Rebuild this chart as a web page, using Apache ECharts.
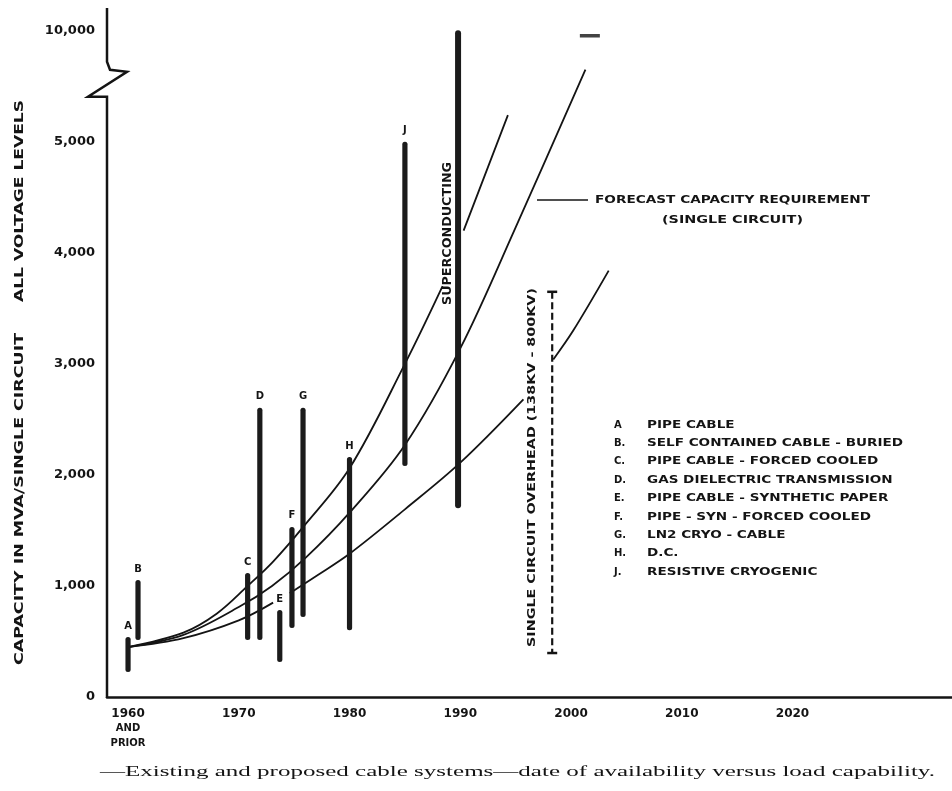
<!DOCTYPE html>
<html><head><meta charset="utf-8">
<script src="https://cdn.jsdelivr.net/npm/echarts@6/dist/echarts.min.js"></script>
<style>html,body{margin:0;padding:0;background:#fff}#c{width:952px;height:791px}</style>
</head><body><div id="c"></div>
<script>
// ---------- data ----------
const xTickYears = [1960, 1970, 1980, 1990, 2000, 2010, 2020];
const yTickValues = [0, 1000, 2000, 3000, 4000, 5000, 10000];

const barLetters = ['A', 'B', 'C', 'D', 'E', 'F', 'G', 'H', 'J'];
const barYears   = [1960, 1960.9, 1970.8, 1971.9, 1973.7, 1974.8, 1975.8, 1980, 1985];
const barLow     = [225, 513, 513, 513, 315, 622, 720, 600, 2080];
const barHigh    = [540, 1054, 1117, 2604, 784, 1532, 2604, 2162, 5000];

const superYear = 1989.8, superLow = 1700, superHigh = 10000;
const overheadYear = 1998.3, overheadLow = 396, overheadHigh = 3649;
const topMark = [[2001.7, 9950]];

const curveUpper = [[1960,450],[1965,580],[1968,750],[1970.8,1000],[1973.1,1220],[1975.8,1530],[1980,2060],[1985,3000],[1988.4,3700],[1989.3,'-'],[1990.3,4200],[1994.3,5240]];
const curveForecast = [[1960,450],[1965,560],[1970,810],[1973,1000],[1976,1250],[1980,1660],[1985,2270],[1990,3140],[1995,4230],[2001.3,5650]];
const curveLower = [[1960,450],[1965,530],[1970,690],[1973.1,850],[1973.8,'-'],[1974.6,935],[1977,1090],[1980,1290],[1985,1690],[1990,2110],[1995.7,2680],[1997,'-'],[1998.4,3040],[2000.2,3300],[2003.4,3840]];

const keyLetters = ['A', 'B.', 'C.', 'D.', 'E.', 'F.', 'G.', 'H.', 'J.'];
const keyNames = ['PIPE CABLE', 'SELF CONTAINED CABLE - BURIED', 'PIPE CABLE - FORCED COOLED',
  'GAS DIELECTRIC TRANSMISSION', 'PIPE CABLE - SYNTHETIC PAPER', 'PIPE - SYN - FORCED COOLED',
  'LN2 CRYO - CABLE', 'D.C.', 'RESISTIVE CRYOGENIC'];

const yTitleA = 'CAPACITY IN MVA/SINGLE CIRCUIT';
const yTitleB = 'ALL VOLTAGE LEVELS';
const forecastText1 = 'FORECAST CAPACITY REQUIREMENT';
const forecastText2 = '(SINGLE CIRCUIT)';
const superText = 'SUPERCONDUCTING';
const overheadText = 'SINGLE CIRCUIT OVERHEAD (138KV - 800KV)';
const caption = '\u2014Existing and proposed cable systems\u2014date of availability versus load capability.';

// ---------- helpers ----------
const INK = '#141414';
const FONT = 'DejaVu Sans';
const mctx = document.createElement('canvas').getContext('2d');
function measure(t, font) { mctx.font = font; return mctx.measureText(t).width; }
function fitText(t, x1, x2, yc, size, weight, family) {
  const font = (weight || 'bold') + ' ' + size + 'px "' + (family || FONT) + '"';
  const w = measure(t, font);
  return { type: 'text', x: x1, y: yc, scaleX: (x2 - x1) / w, z: 50,
    style: { text: t, font: font, fill: INK, textAlign: 'left', textVerticalAlign: 'middle' } };
}
function rotText(t, xc, yBottom, yTop, size) {
  const font = 'bold ' + size + 'px "' + FONT + '"';
  const w = measure(t, font);
  return { type: 'text', x: xc, y: (yBottom + yTop) / 2, rotation: Math.PI / 2, scaleX: (yBottom - yTop) / w, z: 50,
    style: { text: t, font: font, fill: INK, textAlign: 'center', textVerticalAlign: 'middle' } };
}

const chart = echarts.init(document.getElementById('c'), null, { renderer: 'canvas' });

const barData = barYears.map((y, i) => [y, barLow[i], barHigh[i], i]);

function renderBar(params, api) {
  const x = api.value(0), lo = api.value(1), hi = api.value(2), idx = api.value(3);
  const p0 = api.coord([x, lo]), p1 = api.coord([x, hi]);
  return { type: 'group', children: [
    { type: 'rect', shape: { x: p0[0] - 2.6, y: p1[1], width: 5.2, height: p0[1] - p1[1], r: 2.5 }, style: { fill: '#1b1b1b' } },
    { type: 'text', x: p0[0], y: p1[1] - 11, style: { text: barLetters[idx], font: 'bold 10px "' + FONT + '"', fill: INK, textAlign: 'center', textVerticalAlign: 'middle' } }
  ] };
}
function renderSuper(params, api) {
  const p0 = api.coord([api.value(0), api.value(1)]), p1 = api.coord([api.value(0), api.value(2)]);
  return { type: 'rect', shape: { x: p0[0] - 3, y: p1[1], width: 6, height: p0[1] - p1[1], r: 3 }, style: { fill: '#1b1b1b' } };
}
function renderOverhead(params, api) {
  const p0 = api.coord([api.value(0), api.value(1)]), p1 = api.coord([api.value(0), api.value(2)]);
  const x = p0[0];
  return { type: 'group', children: [
    { type: 'line', shape: { x1: x, y1: p1[1], x2: x, y2: p0[1] }, style: { stroke: INK, lineWidth: 2.2, lineDash: [7, 3.5] } },
    { type: 'line', shape: { x1: x - 5, y1: p1[1], x2: x + 5, y2: p1[1] }, style: { stroke: INK, lineWidth: 2.5 } },
    { type: 'line', shape: { x1: x - 5, y1: p0[1], x2: x + 5, y2: p0[1] }, style: { stroke: INK, lineWidth: 2.5 } }
  ] };
}

const lineStyle = { color: INK, width: 1.8 };

const option = {
  animation: false,
  backgroundColor: '#fff',
  grid: { left: 107, right: 0, top: 8, bottom: 94, containLabel: false },
  xAxis: {
    type: 'value', min: 1958.1, max: 2034.4,
    axisLine: { show: true, lineStyle: { color: INK, width: 2.5 } },
    axisTick: { show: false }, splitLine: { show: false },
    axisLabel: {
      customValues: xTickYears, margin: 9,
      fontFamily: FONT, fontWeight: 'bold', fontSize: 12, color: INK, lineHeight: 15,
      formatter: v => v === 1960 ? '1960\n{s|AND}\n{s|PRIOR}' : String(v),
      rich: { s: { fontFamily: FONT, fontWeight: 'bold', fontSize: 10, color: INK, lineHeight: 15 } }
    }
  },
  yAxis: {
    type: 'value', min: 0, max: 10200, interval: 1000,
    breaks: [{ start: 5700, end: 9900, gap: '3.3%' }],
    breakArea: { show: false },
    breakLabelLayout: { moveOverlap: false },
    axisLine: { show: false },
    axisTick: { show: false }, splitLine: { show: false },
    axisLabel: {
      customValues: yTickValues,
      margin: 12, fontFamily: FONT, fontWeight: 'bold', fontSize: 13, color: INK,
      formatter: v => {
        const n = typeof v === 'object' && v !== null ? v.value : Number(v);
        return yTickValues.indexOf(n) >= 0 ? n.toLocaleString('en-US') : '';
      }
    }
  },
  series: [
    { type: 'line', data: curveUpper, smooth: 0.35, showSymbol: false, connectNulls: false, lineStyle: lineStyle, z: 3 },
    { type: 'line', data: curveForecast, smooth: 0.35, showSymbol: false, connectNulls: false, lineStyle: lineStyle, z: 3 },
    { type: 'line', data: curveLower, smooth: 0.35, showSymbol: false, connectNulls: false, lineStyle: lineStyle, z: 3 },
    { type: 'custom', data: barData, renderItem: renderBar, z: 4 },
    { type: 'custom', data: [[superYear, superLow, superHigh]], renderItem: renderSuper, z: 4 },
    { type: 'custom', data: [[overheadYear, overheadLow, overheadHigh]], renderItem: renderOverhead, z: 4 },
    { type: 'scatter', data: topMark, symbol: 'rect', symbolSize: [20, 3.5], itemStyle: { color: INK }, z: 4 }
  ]
};
chart.setOption(option);

// axis line with break zigzag, annotation texts
function px(v) { return chart.convertToPixel({ gridIndex: 0 }, v); }
const ax = px([1958.1, 0]);
const yTop = px([1958.1, 10200])[1];
const y5k = px([1958.1, 5000])[1];
const x0 = ax[0];
const zz1 = y5k - 80, zz2 = y5k - 45;

const graphics = [
  { type: 'polyline', z: 40, shape: { points: [[x0, yTop], [x0, zz1], [x0 + 3, zz1 + 8], [x0 + 20, zz1 + 10], [x0 - 19, zz2], [x0, zz2], [x0, ax[1] + 1]] },
    style: { stroke: INK, lineWidth: 2.5, fill: null } },
  rotText(yTitleA, 20, 665, 333, 12),
  rotText(yTitleB, 20, 302, 100, 12),
  rotText(superText, 448, 305, 162, 12),
  rotText(overheadText, 532, 647, 288, 11),
  { type: 'line', z: 40, shape: { x1: 537, y1: 200, x2: 588, y2: 200 }, style: { stroke: INK, lineWidth: 1.6 } },
  fitText(forecastText1, 595, 870, 200, 10),
  fitText(forecastText2, 662, 803, 220, 10),
  fitText(caption, 100, 935, 772, 15, 'normal', 'Liberation Serif')
];
// key
const refFont = 'bold 10px "' + FONT + '"';
const keyScale = (903 - 647) / measure(keyNames[1], refFont);
keyNames.forEach((n, i) => {
  const y = 425 + i * 18.4;
  graphics.push({ type: 'text', x: 614, y: y, z: 50, style: { text: keyLetters[i], font: refFont, fill: INK, textAlign: 'left', textVerticalAlign: 'middle' } });
  graphics.push({ type: 'text', x: 647, y: y, scaleX: keyScale, z: 50, style: { text: n, font: refFont, fill: INK, textAlign: 'left', textVerticalAlign: 'middle' } });
});
chart.setOption({ graphic: { elements: graphics } });
</script>
</body></html>
